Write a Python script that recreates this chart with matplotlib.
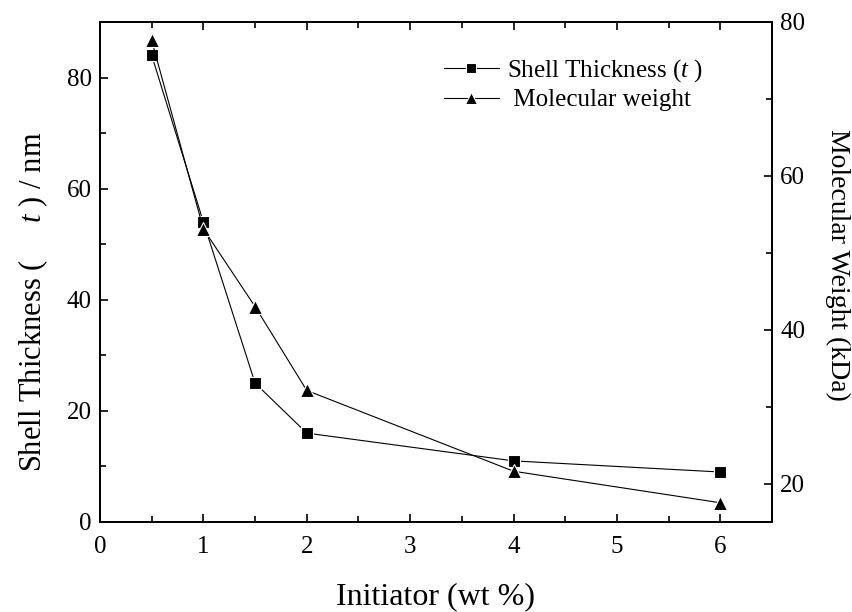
import matplotlib
matplotlib.use('Agg')
import matplotlib.pyplot as plt
from matplotlib.ticker import MultipleLocator

plt.rcParams['font.family'] = ['Liberation Serif', 'DejaVu Serif']
plt.rcParams['mathtext.fontset'] = 'custom'
plt.rcParams['mathtext.rm'] = 'Liberation Serif'
plt.rcParams['mathtext.it'] = 'Liberation Serif:italic'

# data
initiator = [0.5, 1, 1.5, 2, 4, 6]
shell_thickness = [84, 54, 25, 16, 11, 9]
mol_weight = [77.6, 53.1, 43.0, 32.1, 21.6, 17.5]

fig = plt.figure(figsize=(8.52, 6.12), dpi=100)
ax = fig.add_axes([100/852, 90/612, 672/852, 500/612])
ax2 = ax.twinx()

l1, = ax.plot(initiator, shell_thickness, color='black', lw=0.8, marker='s', ms=8,
              mfc='black', mec='white', mew=0.8,
              label='Shell Thickness ($\\it{t}$ )')
l2, = ax2.plot(initiator, mol_weight, color='black', lw=0.8, marker='^', ms=9.5,
               mfc='black', mec='white', mew=0.8,
               label=' Molecular weight')

ax.set_xlim(0, 6.5)
ax.set_ylim(0, 90)
ax2.set_ylim(15, 80)

ax.xaxis.set_major_locator(MultipleLocator(1))
ax.xaxis.set_minor_locator(MultipleLocator(0.5))
ax.yaxis.set_major_locator(MultipleLocator(20))
ax.yaxis.set_minor_locator(MultipleLocator(10))
ax2.yaxis.set_major_locator(MultipleLocator(20))
ax2.yaxis.set_minor_locator(MultipleLocator(10))

ax.tick_params(which='both', direction='in', top=True, labelsize=18, width=1.2)
ax.tick_params(which='major', length=6)
ax.tick_params(which='minor', length=4)
ax.tick_params(axis='x', which='minor', top=True)
ax.tick_params(axis='x', which='major', pad=10)
ax.tick_params(axis='y', which='major', pad=6)
ax2.tick_params(which='both', direction='in', labelsize=18, width=1.2)
ax2.tick_params(which='major', length=6, pad=6)
ax2.tick_params(which='minor', length=4)

for a in (ax, ax2):
    for s in a.spines.values():
        s.set_linewidth(1.3)

ax.set_xlabel('Initiator (wt %)', fontsize=23)
ax.xaxis.set_label_coords(0.5, -0.12)
ax.set_ylabel('Shell Thickness (     $\\it{t}$ ) / nm', fontsize=22)
ax.yaxis.label.set_va('center')
ax.yaxis.set_label_coords(-0.1, 0.44)
ax2.set_ylabel('Molecular Weight (kDa)', fontsize=20, rotation=270)
ax2.yaxis.label.set_va('center')
ax2.yaxis.set_label_coords(1.097, 0.514)

ax.legend(handles=[l1, l2], loc='upper left', bbox_to_anchor=(0.478, 0.975),
          frameon=False, fontsize=18, handlelength=2.2, handletextpad=0.35,
          labelspacing=0.2, markerscale=0.9)

fig.savefig('out.png', dpi=100)
